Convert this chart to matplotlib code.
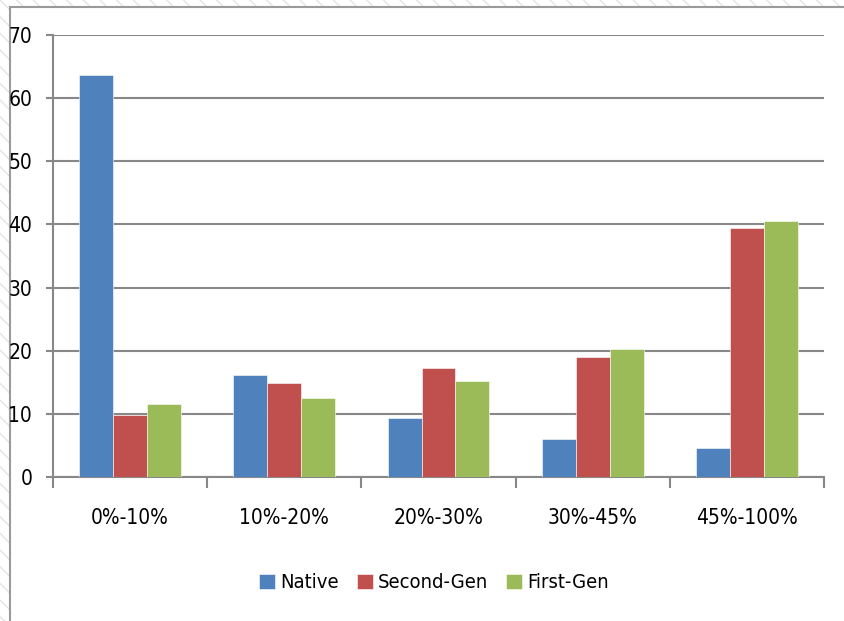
import matplotlib.pyplot as plt
from matplotlib.patches import Rectangle
from matplotlib import font_manager
import numpy as np

categorias = ['0%-10%', '10%-20%', '20%-30%', '30%-45%', '45%-100%']
series = ['Native', 'Second-Gen', 'First-Gen']
native = [63.6, 16.2, 9.4, 6.0, 4.6]
second_gen = [9.8, 14.9, 17.3, 19.0, 39.4]
first_gen = [11.5, 12.5, 15.2, 20.3, 40.5]
colores = ['#4F81BD', '#C0504D', '#9BBB59']

nombres = {f.name for f in font_manager.fontManager.ttflist}
if 'Liberation Sans Narrow' in nombres:
    plt.rcParams['font.family'] = ['Liberation Sans Narrow', 'DejaVu Sans']
else:
    plt.rcParams['font.family'] = ['DejaVu Sans']
    plt.rcParams['font.stretch'] = 'condensed'

fig = plt.figure(figsize=(8.44, 6.21), dpi=100)
fig.patch.set_facecolor('white')

# fondo rayado y marco del grafico
fig.patches.append(Rectangle((0, 0), 1, 1, transform=fig.transFigure,
                             facecolor='white', edgecolor='#e4e4e4',
                             hatch='\\\\', lw=0, zorder=-3))
fig.patches.append(Rectangle((10 / 844, -0.01), 1.1, 1 - 7 / 621 + 0.01,
                             transform=fig.transFigure, facecolor='white',
                             edgecolor='#9a9a9a', lw=1.5, zorder=-2))

ax = fig.add_axes([53 / 844, 1 - 477 / 621, (824 - 53) / 844, (477 - 35) / 621])

x = np.arange(len(categorias)) + 0.5
ancho = 0.22
for k, (nombre, valores) in enumerate(zip(series, [native, second_gen, first_gen])):
    ax.bar(x + (k - 1) * ancho, valores, ancho, color=colores[k], label=nombre,
           edgecolor='white', linewidth=0.4, zorder=3)

ax.set_xlim(0, 5)
ax.set_ylim(0, 70)
ax.set_yticks(range(0, 71, 10))
ax.set_xticks(range(0, 6))
ax.set_xticklabels([])
ax.set_xticks(x, minor=True)
ax.set_xticklabels(categorias, minor=True)
ax.tick_params(axis='x', which='minor', length=0, pad=22, labelsize=15)
ax.tick_params(axis='x', which='major', length=8, width=1.5, color='#888888', direction='out')
ax.tick_params(axis='y', length=5, width=1.5, color='#888888', pad=10, labelsize=15)

ax.grid(axis='y', color='#888888', lw=1.5, zorder=0)
for lado in ['top', 'right']:
    ax.spines[lado].set_visible(False)
for lado in ['left', 'bottom']:
    ax.spines[lado].set_color('#888888')
    ax.spines[lado].set_linewidth(1.5)
ax.set_axisbelow(True)

fig.legend(loc='center', bbox_to_anchor=(434 / 844, 1 - 583 / 621), ncol=3,
           frameon=False, fontsize=14.5, handlelength=0.8, handleheight=0.8,
           handletextpad=0.25, columnspacing=0.9)

fig.savefig('out.png', dpi=100)
